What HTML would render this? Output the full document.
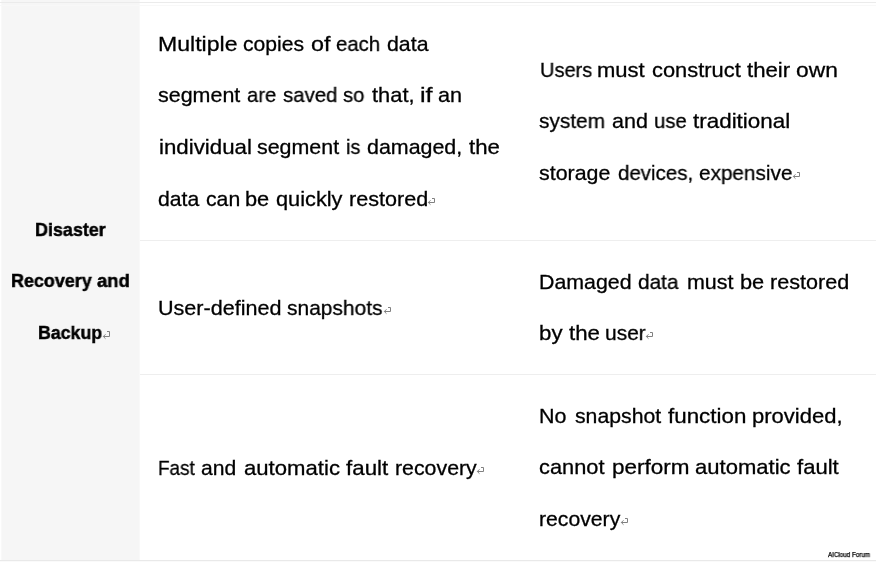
<!DOCTYPE html>
<html><head><meta charset="utf-8"><style>
html,body{margin:0;padding:0}
body{width:876px;height:562px;position:relative;overflow:hidden;background:#fff;font-family:"Liberation Sans",sans-serif;color:#000}
.r,.b{position:absolute;white-space:nowrap;transform-origin:0 0;will-change:transform;-webkit-text-stroke:0.3px #000}
.r{font-size:21px;line-height:21px}
.b{font-size:19px;font-weight:bold;line-height:19px;-webkit-text-stroke:0.5px #000}
.ov{position:absolute;left:0;top:0}
.col1{position:absolute;left:2px;top:0;width:137px;height:560px;background:#f6f6f6}
.hl{position:absolute;height:1px}
.wm{position:absolute;left:828px;top:551px;font-size:6.5px;line-height:7px;color:#000;white-space:nowrap;transform-origin:0 0;will-change:transform;transform:scaleX(0.96);-webkit-text-stroke:0.25px #000}
</style></head><body>
<div class="col1"></div>
<div class="hl" style="left:139px;top:0;width:1px;height:560px;background:#f9f9f9"></div>
<div class="hl" style="left:1px;top:0;width:1px;height:560px;background:#f9f9f9"></div>
<div class="hl" style="left:0;top:2px;width:876px;background:#ebebeb"></div>
<div class="hl" style="left:0;top:5px;width:876px;background:#f8f8f8"></div>
<div class="hl" style="left:140px;top:240px;width:736px;background:#eeeeee"></div>
<div class="hl" style="left:140px;top:374px;width:736px;background:#eeeeee"></div>
<div class="hl" style="left:0;top:560px;width:876px;background:#e9e9e9"></div>
<div class="hl" style="left:0;top:561px;width:876px;background:#fafafa"></div>
<div class="r" style="left:158.15px;top:32.72px;transform:scaleX(1.0980)">Multiple</div>
<div class="r" style="left:243.16px;top:32.72px;transform:scaleX(1.0054)">copies</div>
<div class="r" style="left:310.54px;top:32.72px;transform:scaleX(1.1121)">of</div>
<div class="r" style="left:336.22px;top:32.72px;transform:scaleX(0.9707)">each</div>
<div class="r" style="left:386.91px;top:32.72px;transform:scaleX(1.0150)">data</div>
<div class="r" style="left:158.48px;top:83.72px;transform:scaleX(1.0218)">segment</div>
<div class="r" style="left:246.80px;top:83.72px;transform:scaleX(0.9617)">are</div>
<div class="r" style="left:282.93px;top:83.72px;transform:scaleX(0.9717)">saved</div>
<div class="r" style="left:343.42px;top:83.72px;transform:scaleX(0.9637)">so</div>
<div class="r" style="left:372.07px;top:83.72px;transform:scaleX(1.0405)">that,</div>
<div class="r" style="left:420.44px;top:83.72px;transform:scaleX(1.2000)">if</div>
<div class="r" style="left:437.98px;top:83.72px;transform:scaleX(1.0293)">an</div>
<div class="r" style="left:158.55px;top:135.50px;transform:scaleX(1.0608)">individual</div>
<div class="r" style="left:257.17px;top:135.50px;transform:scaleX(1.0192)">segment</div>
<div class="r" style="left:346.23px;top:135.50px;transform:scaleX(0.9401)">is</div>
<div class="r" style="left:367.46px;top:135.50px;transform:scaleX(1.0192)">damaged,</div>
<div class="r" style="left:468.63px;top:135.50px;transform:scaleX(1.0574)">the</div>
<div class="r" style="left:158.27px;top:187.50px;transform:scaleX(1.0087)">data</div>
<div class="r" style="left:205.52px;top:187.50px;transform:scaleX(1.0109)">can</div>
<div class="r" style="left:245.10px;top:187.50px;transform:scaleX(1.0369)">be</div>
<div class="r" style="left:275.78px;top:187.50px;transform:scaleX(1.0358)">quickly</div>
<div class="r" style="left:348.60px;top:187.50px;transform:scaleX(1.0277)">restored</div>
<div class="r" style="left:157.81px;top:296.50px;transform:scaleX(1.0270)">User-defined</div>
<div class="r" style="left:287.31px;top:296.50px;transform:scaleX(0.9971)">snapshots</div>
<div class="r" style="left:158.29px;top:456.72px;transform:scaleX(0.9000)">Fast</div>
<div class="r" style="left:201.02px;top:456.72px;transform:scaleX(1.0061)">and</div>
<div class="r" style="left:243.83px;top:456.72px;transform:scaleX(1.0540)">automatic</div>
<div class="r" style="left:346.02px;top:456.72px;transform:scaleX(1.0636)">fault</div>
<div class="r" style="left:394.86px;top:456.72px;transform:scaleX(1.0152)">recovery</div>
<div class="r" style="left:539.62px;top:58.62px;transform:scaleX(0.9535)">Users</div>
<div class="r" style="left:597.05px;top:58.62px;transform:scaleX(1.0486)">must</div>
<div class="r" style="left:651.52px;top:58.62px;transform:scaleX(1.0414)">construct</div>
<div class="r" style="left:746.95px;top:58.62px;transform:scaleX(1.0573)">their</div>
<div class="r" style="left:796.12px;top:58.62px;transform:scaleX(1.0857)">own</div>
<div class="r" style="left:539.21px;top:109.82px;transform:scaleX(0.9931)">system</div>
<div class="r" style="left:611.69px;top:109.82px;transform:scaleX(1.0246)">and</div>
<div class="r" style="left:653.54px;top:109.82px;transform:scaleX(0.9652)">use</div>
<div class="r" style="left:693.26px;top:109.82px;transform:scaleX(1.0675)">traditional</div>
<div class="r" style="left:539.19px;top:161.80px;transform:scaleX(1.0180)">storage</div>
<div class="r" style="left:617.64px;top:161.80px;transform:scaleX(0.9753)">devices,</div>
<div class="r" style="left:698.91px;top:161.80px;transform:scaleX(0.9870)">expensive</div>
<div class="r" style="left:539.14px;top:270.80px;transform:scaleX(1.0167)">Damaged</div>
<div class="r" style="left:638.33px;top:270.80px;transform:scaleX(0.9897)">data</div>
<div class="r" style="left:686.53px;top:270.80px;transform:scaleX(1.0211)">must</div>
<div class="r" style="left:739.95px;top:270.80px;transform:scaleX(1.0367)">be</div>
<div class="r" style="left:769.98px;top:270.80px;transform:scaleX(1.0277)">restored</div>
<div class="r" style="left:539.38px;top:321.80px;transform:scaleX(1.0596)">by</div>
<div class="r" style="left:568.63px;top:321.80px;transform:scaleX(1.0607)">the</div>
<div class="r" style="left:605.10px;top:321.80px;transform:scaleX(0.9962)">user</div>
<div class="r" style="left:539.03px;top:404.80px;transform:scaleX(1.0223)">No</div>
<div class="r" style="left:574.63px;top:404.80px;transform:scaleX(1.0106)">snapshot</div>
<div class="r" style="left:667.79px;top:404.80px;transform:scaleX(1.0659)">function</div>
<div class="r" style="left:751.87px;top:404.80px;transform:scaleX(1.0479)">provided,</div>
<div class="r" style="left:538.75px;top:455.80px;transform:scaleX(1.0378)">cannot</div>
<div class="r" style="left:611.64px;top:455.80px;transform:scaleX(1.0713)">perform</div>
<div class="r" style="left:694.97px;top:455.80px;transform:scaleX(1.0499)">automatic</div>
<div class="r" style="left:797.33px;top:455.80px;transform:scaleX(1.0517)">fault</div>
<div class="r" style="left:539.39px;top:507.62px;transform:scaleX(1.0088)">recovery</div>
<div class="b" style="left:34.55px;top:219.62px;transform:scaleX(0.9436)">Disaster</div>
<div class="b" style="left:11.44px;top:270.62px;transform:scaleX(0.9442)">Recovery</div>
<div class="b" style="left:97.26px;top:270.62px;transform:scaleX(0.9700)">and</div>
<div class="b" style="left:38.18px;top:322.50px;transform:scaleX(0.9344)">Backup</div>
<svg class="ov" width="876" height="562" viewBox="0 0 876 562"><path d="M432.00 198.50H434.50V202.50H428.30M430.50 200.30L428.30 202.50L430.50 204.70M388.00 307.50H390.50V311.50H384.30M386.50 309.30L384.30 311.50L386.50 313.70M481.00 467.50H483.50V471.50H477.30M479.50 469.30L477.30 471.50L479.50 473.70M797.00 172.50H799.50V176.50H793.30M795.50 174.30L793.30 176.50L795.50 178.70M650.00 332.50H652.50V336.50H646.30M648.50 334.30L646.30 336.50L648.50 338.70M625.00 518.50H627.50V522.50H621.30M623.50 520.30L621.30 522.50L623.50 524.70M107.00 331.50H109.50V336.50H103.30M105.50 334.30L103.30 336.50L105.50 338.70" fill="none" stroke="#808080" stroke-width="1"/></svg>
<div class="wm">AICloud Forum</div>
</body></html>
